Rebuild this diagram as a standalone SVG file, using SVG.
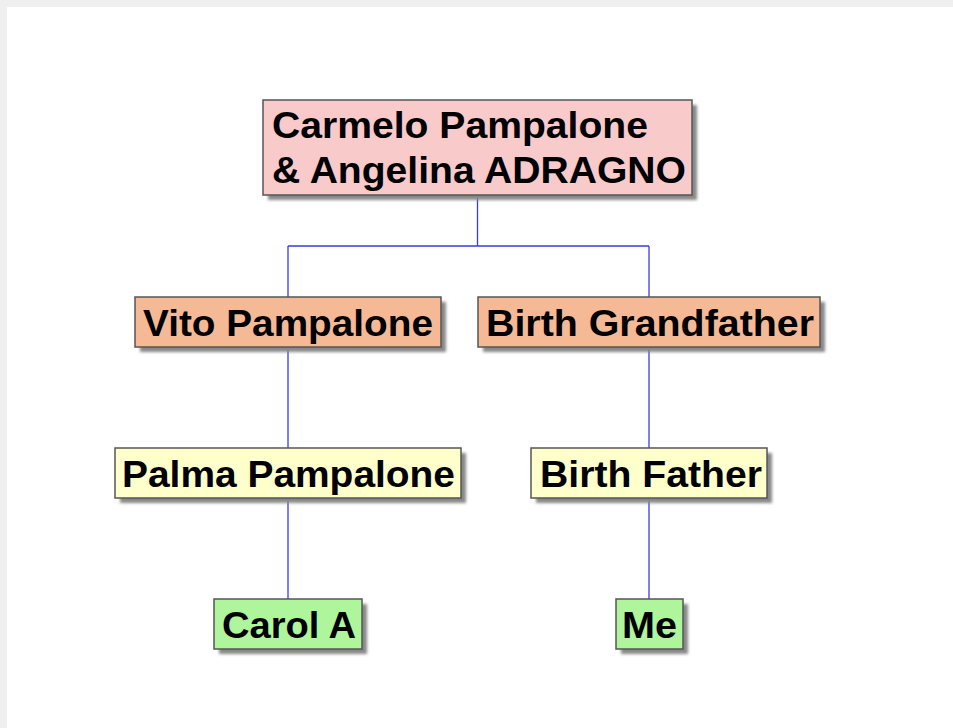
<svg xmlns="http://www.w3.org/2000/svg" width="953" height="728" viewBox="0 0 953 728">
<defs>
<filter id="sh" x="-10%" y="-10%" width="130%" height="140%"><feGaussianBlur stdDeviation="1.5"/></filter>
</defs>
<style>
.t{font-family:"Liberation Sans",Arial,sans-serif;font-weight:bold;font-size:37px;fill:#000}
.b{stroke:#555;stroke-width:1.5}
.s{fill:#888;filter:url(#sh)}
.c{fill:none;stroke:#3a3ae8;stroke-width:1.3}
.pink{fill:#f8caca}.orange{fill:#f6b995}.yellow{fill:#ffffcc}.green{fill:#aef59c}
</style>
<rect width="953" height="728" fill="#efefef"/>
<rect x="7" y="7" width="946" height="721" fill="#ffffff"/>
<g id="connectors">
<path class="c" d="M477.5 195V246M288 246H649M288 246V297M649 246V297M288 347V448M649 347V448M288 498V599M649 498V599"/>
</g>
<g id="n-top">
<rect class="s" x="268" y="105" width="429" height="95"/>
<rect class="b pink" x="263" y="100" width="429" height="95"/>
<text class="t" x="272" y="138" textLength="376" lengthAdjust="spacingAndGlyphs">Carmelo Pampalone</text>
<text class="t" x="272" y="183" textLength="414" lengthAdjust="spacingAndGlyphs">&amp; Angelina ADRAGNO</text>
</g>
<g id="n-vito">
<rect class="s" x="140" y="302" width="306" height="50"/>
<rect class="b orange" x="135" y="297" width="306" height="50"/>
<text class="t" x="143" y="336" textLength="290" lengthAdjust="spacingAndGlyphs">Vito Pampalone</text>
</g>
<g id="n-bgf">
<rect class="s" x="483" y="302" width="342" height="50"/>
<rect class="b orange" x="478" y="297" width="342" height="50"/>
<text class="t" x="486" y="336" textLength="328" lengthAdjust="spacingAndGlyphs">Birth Grandfather</text>
</g>
<g id="n-palma">
<rect class="s" x="120" y="453" width="346" height="50"/>
<rect class="b yellow" x="115" y="448" width="346" height="50"/>
<text class="t" x="122" y="487" textLength="333" lengthAdjust="spacingAndGlyphs">Palma Pampalone</text>
</g>
<g id="n-bf">
<rect class="s" x="536" y="453" width="236" height="50"/>
<rect class="b yellow" x="531" y="448" width="236" height="50"/>
<text class="t" x="540" y="487" textLength="222" lengthAdjust="spacingAndGlyphs">Birth Father</text>
</g>
<g id="n-carol">
<rect class="s" x="219" y="604" width="148" height="50"/>
<rect class="b green" x="214" y="599" width="148" height="50"/>
<text class="t" x="222" y="638" textLength="134" lengthAdjust="spacingAndGlyphs">Carol A</text>
</g>
<g id="n-me">
<rect class="s" x="621" y="604" width="67" height="50"/>
<rect class="b green" x="616" y="599" width="67" height="50"/>
<text class="t" x="622" y="638" textLength="55" lengthAdjust="spacingAndGlyphs">Me</text>
</g>
</svg>
